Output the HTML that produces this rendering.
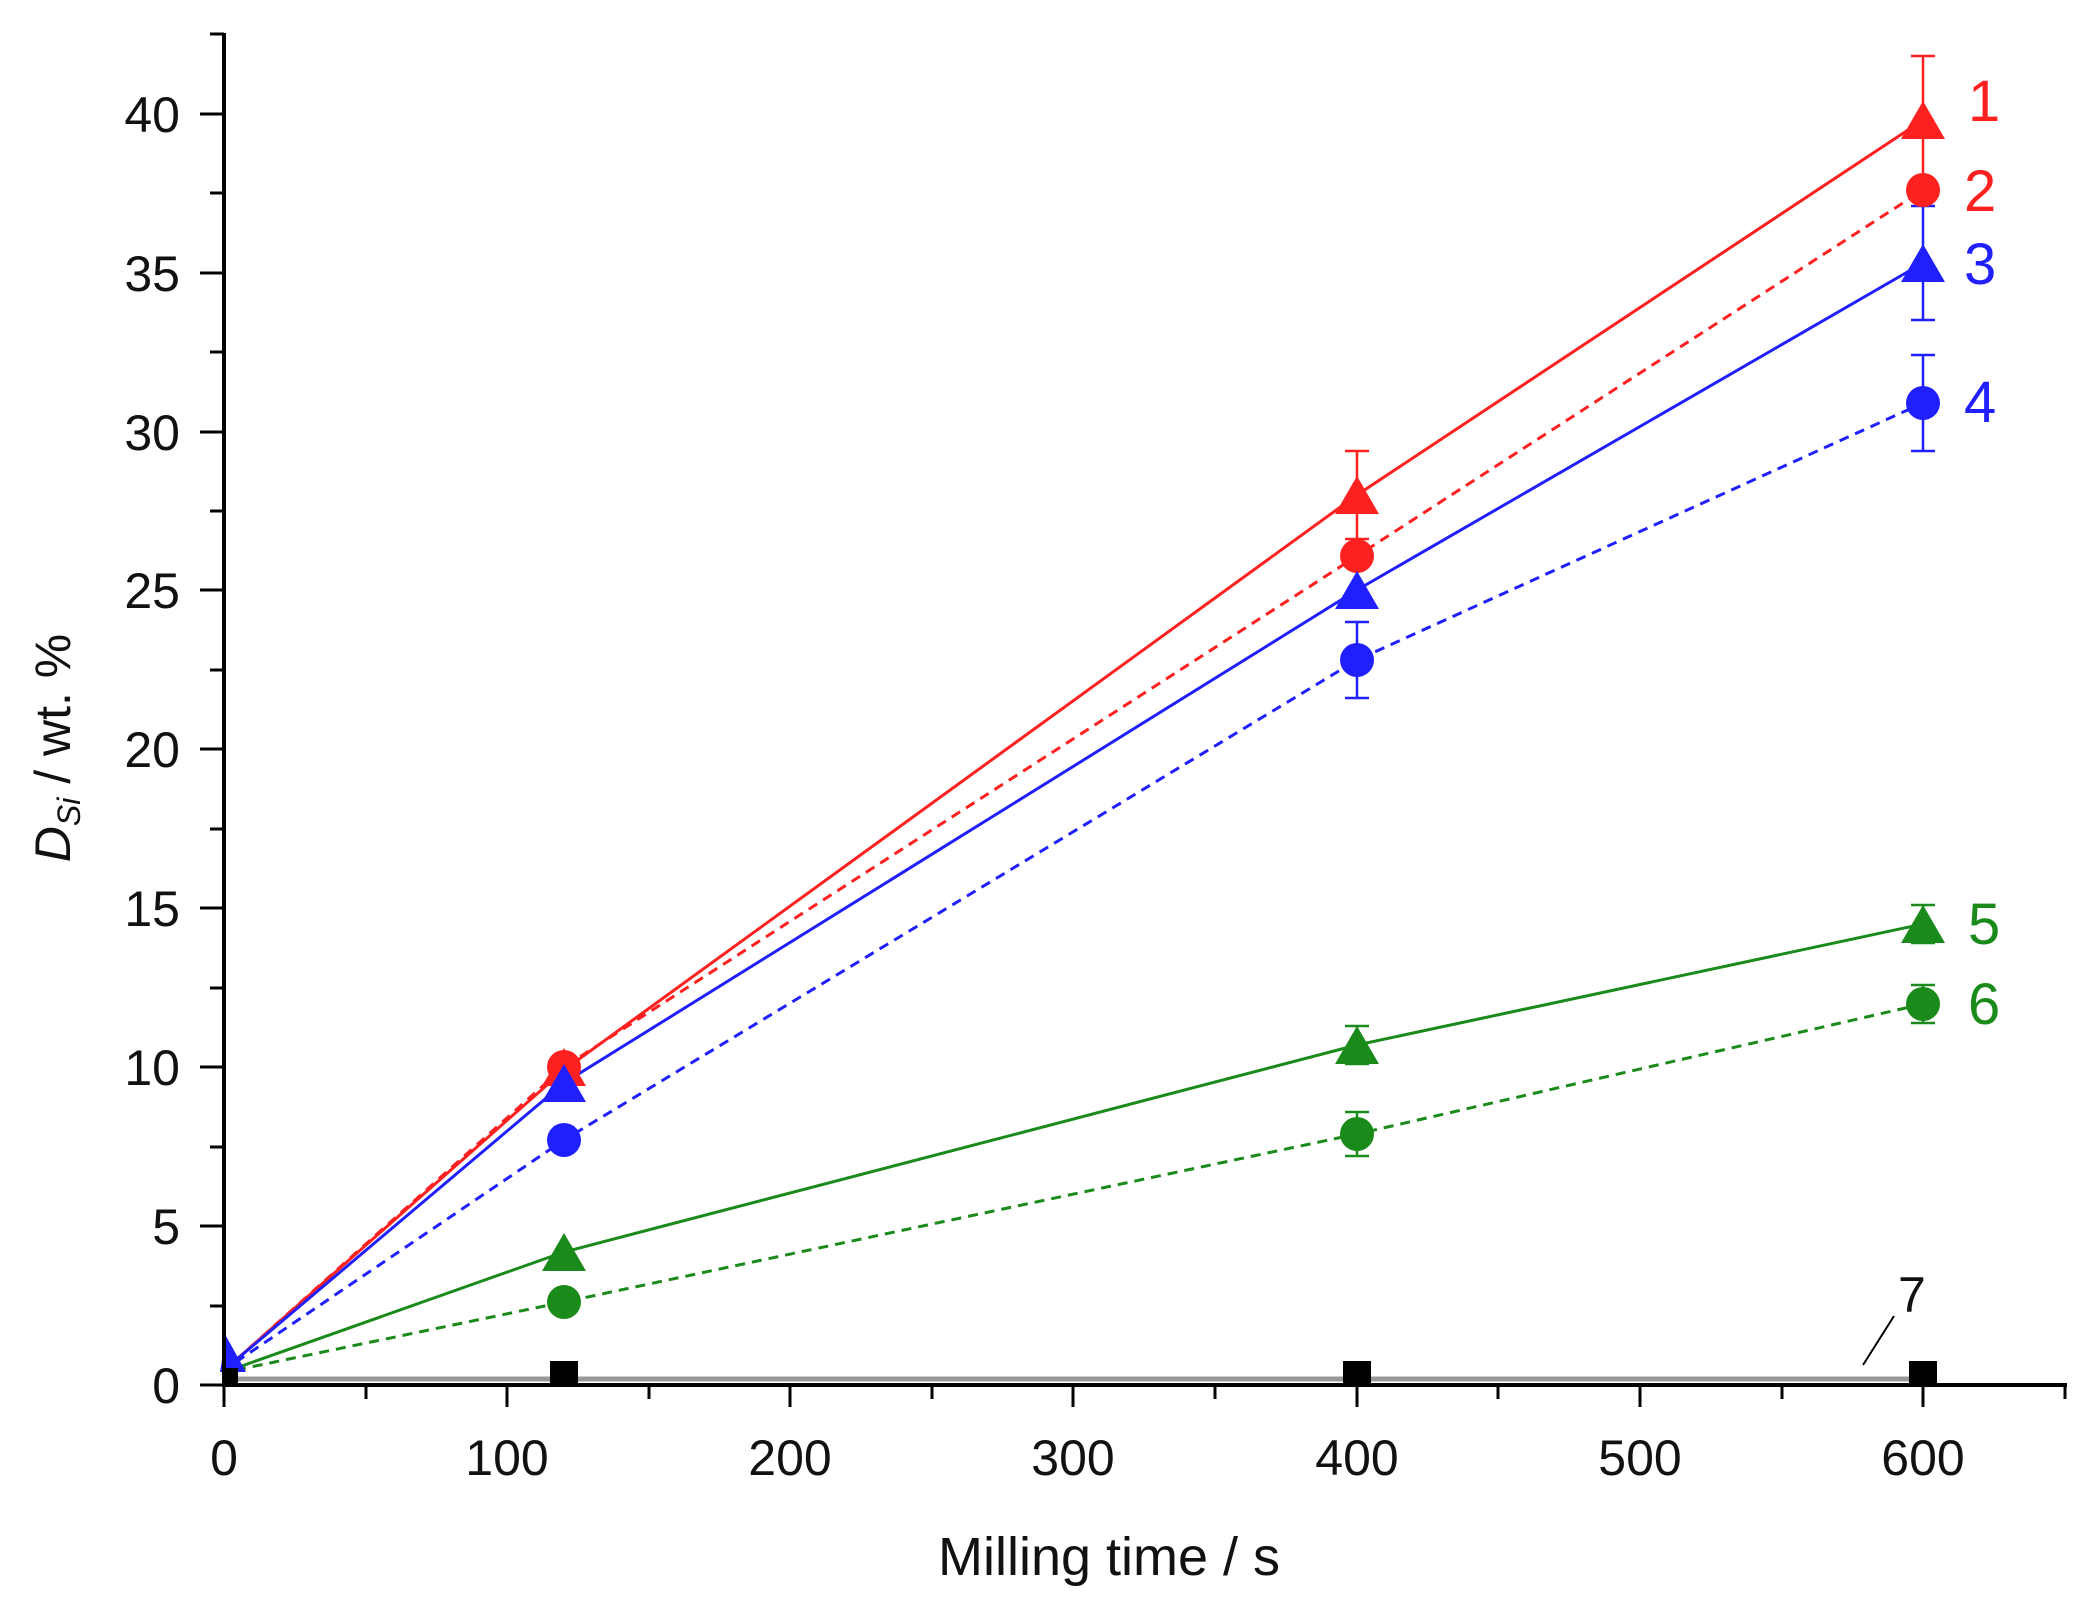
<!DOCTYPE html>
<html><head><meta charset="utf-8"><style>
html,body{margin:0;padding:0;background:#fff}
svg{display:block}
text{font-family:"Liberation Sans",sans-serif}
</style></head><body>
<svg width="2089" height="1602" viewBox="0 0 2089 1602" xmlns="http://www.w3.org/2000/svg">
<g fill="none" stroke-width="3">
<polyline stroke="#ff2020" points="236,1360 564,1070 1357,495 1923,120"/>
<polyline stroke="#ff2020" stroke-dasharray="10,7" points="236,1360 564,1067 1357,556 1923,190"/>
<polyline stroke="#2020ff" points="236,1360 564,1083 1357,590 1923,263"/>
<polyline stroke="#2020ff" stroke-dasharray="10,7" points="236,1362 564,1140 1357,660 1923,403"/>
<polyline stroke="#1a8a1a" points="236,1368 564,1252 1357,1045 1923,924"/>
<polyline stroke="#1a8a1a" stroke-dasharray="10,7" points="236,1370 564,1302 1357,1134 1923,1004"/>
<polyline stroke="#999" stroke-width="5" points="236,1379 1923,1379"/>
</g>
<g stroke-width="2.5" fill="none">
<g stroke="#ff2020"><path d="M1357,451V539M1345,451H1369M1345,539H1369"/><path d="M1923,56V184M1911,56H1935"/></g>
<g stroke="#2020ff"><path d="M1923,206V320M1911,206H1935M1911,320H1935"/><path d="M1357,622V698M1345,622H1369M1345,698H1369"/><path d="M1923,355V451M1911,355H1935M1911,451H1935"/></g>
<g stroke="#1a8a1a"><path d="M1357,1026V1064M1345,1026H1369M1345,1064H1369"/><path d="M1923,905V943M1911,905H1935M1911,943H1935"/><path d="M1357,1112V1156M1345,1112H1369M1345,1156H1369"/><path d="M1923,985V1023M1911,985H1935M1911,1023H1935"/></g>
</g>
<g fill="#ff2020"><circle cx="564" cy="1067" r="17"/><circle cx="1357" cy="556" r="17"/><circle cx="1923" cy="190" r="17"/>
<path d="M564,1048l22,38h-44z M1357,476l22,38h-44z M1923,101l22,38h-44z"/></g>
<g fill="#2020ff"><circle cx="564" cy="1140" r="17"/><circle cx="1357" cy="660" r="17"/><circle cx="1923" cy="403" r="17"/>
<path d="M564,1064l22,38h-44z M1357,571l22,38h-44z M1923,244l22,38h-44z M226,1336l20,36h-26z"/></g>
<g fill="#1a8a1a"><circle cx="564" cy="1302" r="17"/><circle cx="1357" cy="1134" r="17"/><circle cx="1923" cy="1004" r="17"/>
<path d="M564,1233l22,38h-44z M1357,1026l22,38h-44z M1923,905l22,38h-44z"/></g>
<g fill="#000"><rect x="550" y="1361" width="28" height="26"/><rect x="1343" y="1361" width="28" height="26"/><rect x="1909" y="1361" width="28" height="26"/><rect x="224" y="1368" width="14" height="17"/></g>
<g stroke="#000" fill="none">
<path d="M224,33V1385H2067" stroke-width="4"/>
<path stroke-width="3" d="M224,1385v22M507,1385v22M790,1385v22M1073,1385v22M1357,1385v22M1640,1385v22M1923,1385v22M366,1385v14M649,1385v14M932,1385v14M1215,1385v14M1498,1385v14M1782,1385v14M2065,1385v14"/>
<path stroke-width="3" d="M224,1385h-24M224,1226h-24M224,1067h-24M224,908h-24M224,749h-24M224,590h-24M224,432h-24M224,273h-24M224,114h-24M224,1306h-14M224,1147h-14M224,988h-14M224,829h-14M224,670h-14M224,511h-14M224,352h-14M224,193h-14M224,34h-14"/>
<path stroke-width="2" d="M1894,1316L1863,1365"/>
</g>
<g font-size="50" fill="#111" text-anchor="end">
<text x="180" y="1403">0</text><text x="180" y="1244">5</text><text x="180" y="1085">10</text><text x="180" y="926">15</text><text x="180" y="767">20</text><text x="180" y="608">25</text><text x="180" y="450">30</text><text x="180" y="291">35</text><text x="180" y="132">40</text>
</g>
<g font-size="50" fill="#111" text-anchor="middle">
<text x="224" y="1475">0</text><text x="507" y="1475">100</text><text x="790" y="1475">200</text><text x="1073" y="1475">300</text><text x="1357" y="1475">400</text><text x="1640" y="1475">500</text><text x="1923" y="1475">600</text>
<text x="1109" y="1575" font-size="54">Milling time / s</text>
</g>
<text transform="translate(70,748) rotate(-90)" font-size="50" text-anchor="middle" fill="#111"><tspan font-style="italic">D</tspan><tspan font-style="italic" font-size="32" dy="10">Si</tspan><tspan dy="-10"> / wt. %</tspan></text>
<g font-size="58">
<text x="1968" y="121" fill="#ff2020">1</text>
<text x="1964" y="211" fill="#ff2020">2</text>
<text x="1964" y="284" fill="#2020ff">3</text>
<text x="1964" y="422" fill="#2020ff">4</text>
<text x="1968" y="944" fill="#1a8a1a">5</text>
<text x="1968" y="1024" fill="#1a8a1a">6</text>
<text x="1898" y="1312" fill="#111" font-size="50">7</text>
</g>
</svg>
</body></html>
